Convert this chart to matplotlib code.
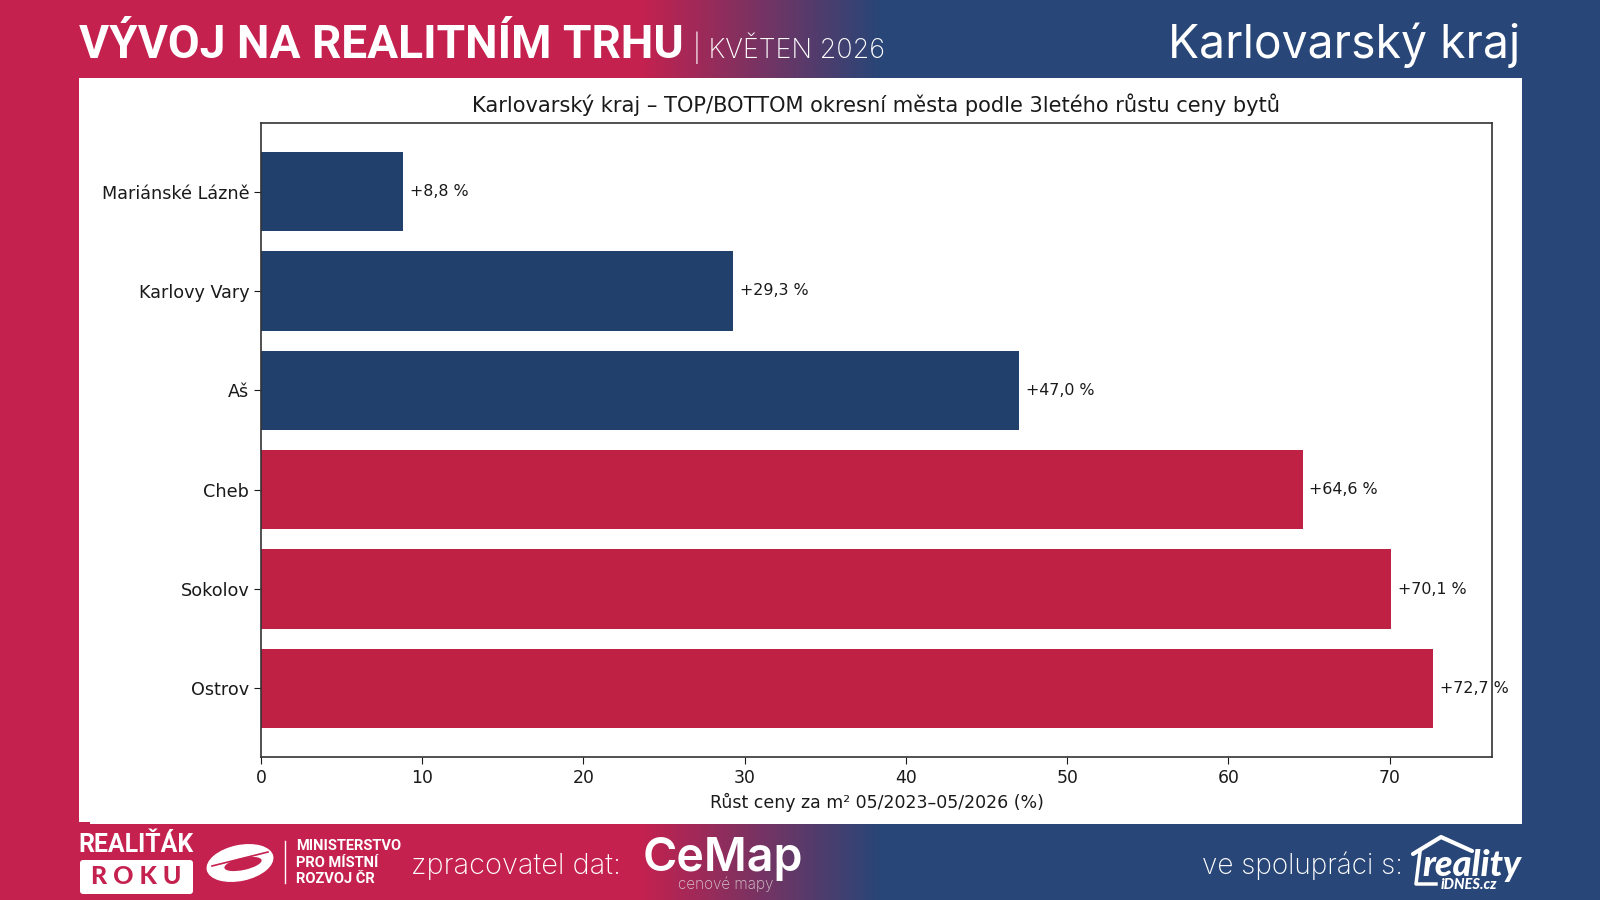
import matplotlib
matplotlib.use('Agg')
import matplotlib.pyplot as plt
import numpy as np
from matplotlib.patches import Ellipse, FancyBboxPatch, Rectangle
from matplotlib.colors import LinearSegmentedColormap

# Data
mesta = ['Ostrov', 'Sokolov', 'Cheb', 'Aš', 'Karlovy Vary', 'Mariánské Lázně']
rust = [72.7, 70.1, 64.6, 47.0, 29.3, 8.8]
popisky = ['+72,7 %', '+70,1 %', '+64,6 %', '+47,0 %', '+29,3 %', '+8,8 %']
barvy = ['#BF2145', '#BF2145', '#BF2145', '#21406B', '#21406B', '#21406B']
x_ticks = [0, 10, 20, 30, 40, 50, 60, 70]

W, H = 1600, 900
CERVENA = '#C5214F'
MODRA = '#284677'

fig = plt.figure(figsize=(16, 9), dpi=100)


def ax_px(x0, y0, x1, y1, **kw):
    # axes placed in pixel coordinates, y measured from the top
    return fig.add_axes([x0 / W, 1 - y1 / H, (x1 - x0) / W, (y1 - y0) / H], **kw)


# Background with the red-to-blue transition
bg = ax_px(0, 0, W, H)
bg.axis('off')
cmap = LinearSegmentedColormap.from_list('pas', [CERVENA, MODRA])
grad = np.clip((np.arange(W) - 640) / (880 - 640), 0, 1).reshape(1, -1)
bg.imshow(grad, cmap=cmap, extent=[0, W, H, 0], aspect='auto', vmin=0, vmax=1)
bg.set_xlim(0, W)
bg.set_ylim(H, 0)

# White panel behind the chart
bg.add_patch(Rectangle((79, 78), 1443, 744, fc='white', ec='none'))
bg.add_patch(Rectangle((90, 820), 1432, 4, fc='white', ec='none'))

# Header
bg.text(79, 45, 'VÝVOJ NA REALITNÍM TRHU', color='white', family='Roboto',
        weight='bold', fontsize=33.2, va='center', ha='left')
bg.text(693, 48, '| KVĚTEN 2026', color='white', family='Inter', weight='light',
        fontsize=19.4, va='center', ha='left')
bg.text(1520, 45, 'Karlovarský kraj', color='white', family='Inter',
        fontsize=33.3, va='center', ha='right')

# Footer, left part
bg.text(78, 845, 'REALIŤÁK', color='white', family='Roboto', weight='bold',
        fontsize=17.9, va='center', ha='left')
bg.add_patch(FancyBboxPatch((80, 860), 113, 34, boxstyle='round,pad=0,rounding_size=3',
                            fc='white', ec='none'))
bg.text(136, 877, 'R O K U', color=CERVENA, family='Lato', weight='black',
        fontsize=18, va='center', ha='center')
bg.add_patch(Ellipse((240, 863), 68, 36, angle=-12, fc='white', ec='none'))
bg.add_patch(Ellipse((243, 864), 38, 12, angle=-12, fc=CERVENA, ec='none'))
bg.plot([212, 268], [866, 852], color=CERVENA, lw=1.2)
bg.plot([284.5, 284.5], [841, 883], color='white', lw=1)
for y, t in zip([846, 863, 879], ['MINISTERSTVO', 'PRO MÍSTNÍ', 'ROZVOJ ČR']):
    bg.text(296, y, t, color='white', family='Roboto', weight='bold',
            fontsize=10.5, va='center', ha='left')
bg.text(411, 866, 'zpracovatel dat:', color='white', family='Inter', weight='light',
        fontsize=20.8, va='center', ha='left')
bg.text(643, 859, 'CeMap', color='white', family='Inter', weight='semibold',
        fontsize=33.5, va='center', ha='left')
bg.text(726, 884, 'cenové mapy', color='#D8C8D0', family='Inter', weight='light',
        fontsize=11, va='center', ha='center')

# Footer, right part
bg.text(1202, 866, 've spolupráci s:', color='white', family='Inter', weight='light',
        fontsize=20.1, va='center', ha='left')
bg.plot([1413, 1441, 1472], [854, 837, 851], color='white', lw=3, solid_capstyle='round')
bg.plot([1420, 1416, 1436], [852, 884, 884], color='white', lw=2.5)
bg.text(1521, 865, 'reality', color='white', family='Lato', weight='black',
        style='italic', fontsize=26, va='center', ha='right')
bg.text(1497, 885, 'iDNES.cz', color='white', family='Lato', weight='black',
        style='italic', fontsize=10.5, va='center', ha='right')

# Bar chart
ax = ax_px(261, 123, 1492, 757)
y = np.arange(len(mesta))
ax.barh(y, rust, color=barvy)
ax.set_yticks(y)
ax.set_yticklabels(mesta)
ax.set_xticks(x_ticks)
ax.set_xlim(0, 76.35)
ax.tick_params(length=5, colors='#1a1a1a')
ax.tick_params(axis='x', labelsize=12.4)
ax.tick_params(axis='y', labelsize=12.7)
for i, v in enumerate(rust):
    ax.text(v + 0.42, i, popisky[i], va='center', ha='left', fontsize=11.4, color='#1a1a1a')
ax.set_title('Karlovarský kraj – TOP/BOTTOM okresní města podle 3letého růstu ceny bytů',
             fontsize=15.1, color='#1a1a1a', pad=8)
ax.set_xlabel('Růst ceny za m² 05/2023–05/2026 (%)', fontsize=12.5, color='#1a1a1a', labelpad=4.5)
for s in ax.spines.values():
    s.set_linewidth(1.2)
    s.set_color('#333333')

fig.savefig('out.png', dpi=100)
